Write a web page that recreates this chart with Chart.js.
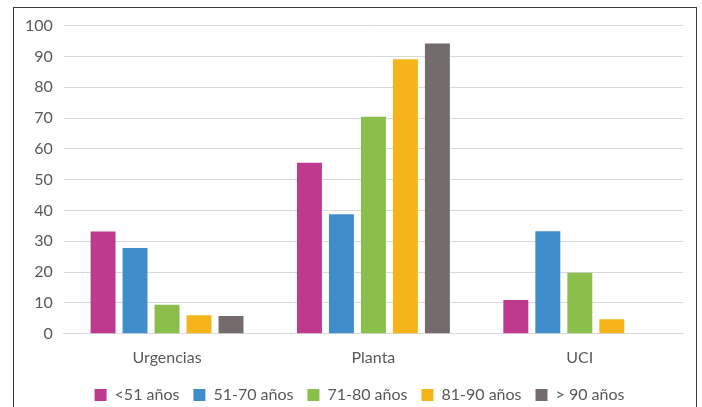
<!DOCTYPE html>
<html>
<head>
<meta charset="utf-8">
<script src="https://cdn.jsdelivr.net/npm/chart.js@4"></script>
<style>
  html, body { margin: 0; padding: 0; background: #fff; overflow: hidden; }
  #frame { position: absolute; left: 13px; top: 7px; width: 682px; height: 420px; border: 1px solid #3a3a3a; }
  #chart { display: block; margin-top: -3px; }
</style>
</head>
<body>
<div id="frame"><canvas id="chart" width="682" height="420"></canvas></div>
<script>
// Chart data
const categories = ['Urgencias', 'Planta', 'UCI'];
const seriesNames = ['<51 años', '51-70 años', '71-80 años', '81-90 años', '> 90 años'];
const menos51 = [33.2, 55.5, 11.0];
const de51a70 = [27.8, 38.8, 33.3];
const de71a80 = [9.4, 70.4, 19.8];
const de81a90 = [6.0, 89.1, 4.7];
const mas90 = [5.8, 94.2, null];
const yTicks = [0, 10, 20, 30, 40, 50, 60, 70, 80, 90, 100];

const values = [menos51, de51a70, de71a80, de81a90, mas90];
const colors = ['#BE3A8C', '#3F8DCB', '#8BBF4B', '#F4B41A', '#746B6C'];
const font = { family: 'Lato', size: 16 };

// nudge legend a bit to the right, like the original
const legendShift = {
    id: 'legendShift',
    afterLayout(chart) {
        chart.legend.left += 11;
        chart.legend.right += 11;
    }
};

const ctx = document.getElementById('chart').getContext('2d');
new Chart(ctx, {
    type: 'bar',
    data: {
        labels: categories,
        datasets: seriesNames.map((name, i) => ({
            label: name,
            data: values[i],
            backgroundColor: colors[i],
            categoryPercentage: 0.775,
            barPercentage: 0.78
        }))
    },
    options: {
        responsive: false,
        animation: false,
        layout: { padding: { left: 0, right: 13, top: 0, bottom: 12 } },
        plugins: {
            tooltip: { enabled: false },
            legend: {
                position: 'bottom',
                labels: {
                    color: '#595959',
                    font: font,
                    boxWidth: 12,
                    boxHeight: 12,
                    padding: 14
                }
            }
        },
        scales: {
            x: {
                grid: { display: false },
                border: { color: '#d9d9d9', width: 1 },
                ticks: { color: '#595959', font: font, padding: 6 }
            },
            y: {
                min: 0,
                max: 100,
                afterBuildTicks: axis => { axis.ticks = yTicks.map(v => ({ value: v })); },
                grid: { color: '#d9d9d9', drawTicks: false },
                border: { display: false },
                ticks: { color: '#595959', font: font, padding: 11 }
            }
        }
    },
    plugins: [legendShift]
});
</script>
</body>
</html>
